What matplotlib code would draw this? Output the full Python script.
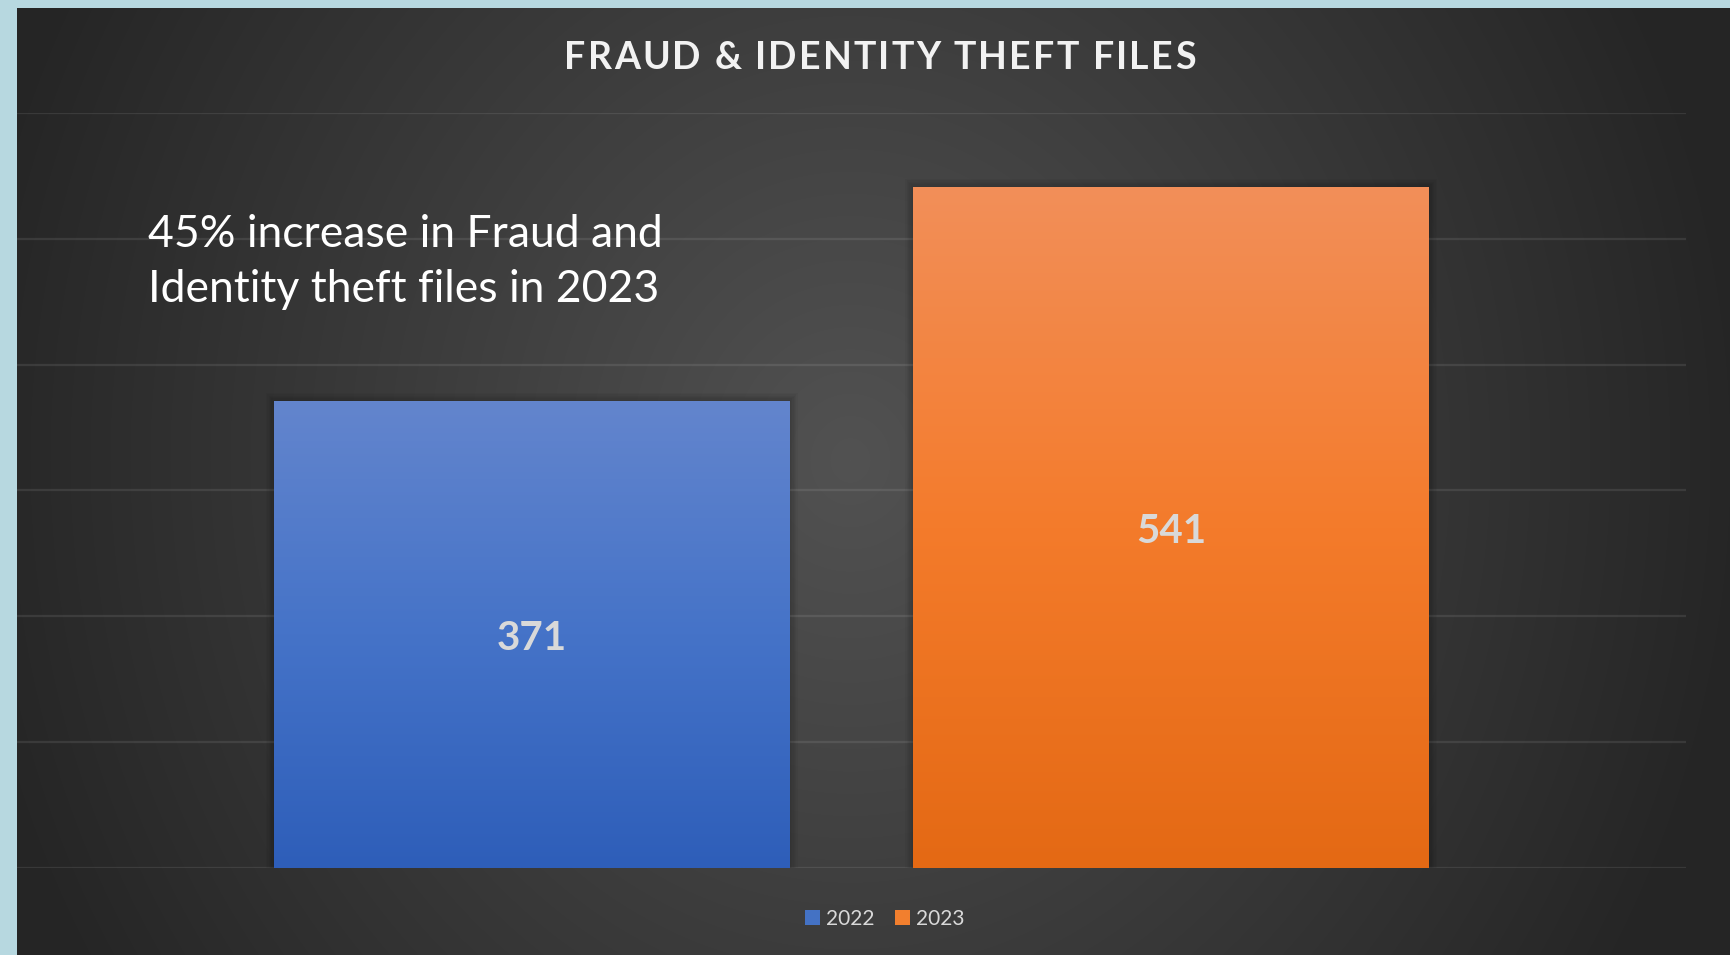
import numpy as np
import matplotlib.pyplot as plt
from matplotlib.patches import Rectangle, Patch
from matplotlib.colors import LinearSegmentedColormap

years = ["2022", "2023"]
files = [371, 541]
top_colors = ["#6385cd", "#f28f59"]
mid_colors = ["#4573c8", "#f47b2b"]
bottom_colors = ["#2e5eb9", "#e46914"]
legend_colors = ["#4472c4", "#f27f2e"]
title = "FRAUD & IDENTITY THEFT FILES"
note_lines = ["45% increase in Fraud and", "Identity theft files in 2023"]

plt.rcParams["font.family"] = ["Lato", "DejaVu Sans"]

W, H = 1730, 955
fig = plt.figure(figsize=(W / 100, H / 100), dpi=100)
fig.patch.set_facecolor("#b7d8e0")
renderer = fig.canvas.get_renderer()

# dark panel with a soft radial glow
bg = fig.add_axes([17 / W, 0, 1 - 17 / W, (H - 8) / H], zorder=0)
px, py = np.meshgrid(np.arange(17, W), np.arange(8, H))
f = np.sqrt(((px - 850) / 900.0) ** 2 + ((py - 460) / 1000.0) ** 2)
shade = 82 - 45 * np.clip(f, 0, 1)
rgb = np.dstack([shade, shade, shade]) / 255.0
bg.imshow(rgb, aspect="auto", interpolation="bilinear")
bg.set_axis_off()

ax = fig.add_axes([17 / W, 1 - 868 / H, (1686 - 17) / W, (868 - 113) / H], zorder=1)
ax.patch.set_alpha(0)

centers = [-0.383, 0.383]
width = 0.618
ax.set_yticks(range(0, 601, 100))
ax.grid(axis="y", color="#ffffff", alpha=0.09, linewidth=1.6)
ax.set_axisbelow(True)
for s in ax.spines.values():
    s.set_visible(False)
ax.tick_params(left=False, bottom=False, labelleft=False, labelbottom=False)

grad = np.linspace(1, 0, 256).reshape(-1, 1)
for c, v, tc, mc, bc in zip(centers, files, top_colors, mid_colors, bottom_colors):
    x0 = c - width / 2
    # soft shadow
    for k in range(1, 7):
        dx = 0.0016 * k
        dy = 1.1 * k
        ax.add_patch(Rectangle((x0 - dx, -dy), width + 2 * dx, v + 2 * dy,
                               facecolor="black", edgecolor="none", alpha=0.03, zorder=2))
    bar = ax.bar(c, v, width=width, color=bc, zorder=3)[0]
    cmap = LinearSegmentedColormap.from_list("g", [bc, mc, tc])
    im = ax.imshow(grad, extent=[x0, x0 + width, 0, v], aspect="auto",
                   cmap=cmap, zorder=4, origin="upper")
    im.set_clip_path(bar)
    ax.text(c, v / 2, str(v), ha="center", va="center_baseline", fontsize=29,
            fontweight="bold", color="#d9d9d9", zorder=5)

ax.set_xlim(-1, 1)
ax.set_ylim(0, 600)


# title with letter spacing, drawn one character at a time
def advance(ch, **kw):
    t1 = fig.text(0, 0, "H" + ch + "H", **kw)
    t2 = fig.text(0, 0, "HH", **kw)
    w = t1.get_window_extent(renderer).width - t2.get_window_extent(renderer).width
    t1.remove()
    t2.remove()
    return w


tkw = dict(fontsize=27, fontweight="bold", color="#f2f2f2")
gap = 2.2
advs = [advance(ch, **tkw) for ch in title]
total = sum(advs) + gap * (len(title) - 1)
x = 880 - total / 2
for ch, a in zip(title, advs):
    fig.text(x / W, 1 - 69 / H, ch, ha="left", va="baseline", **tkw)
    x += a + gap

for line, base in zip(note_lines, [247, 302]):
    fig.text(148 / W, 1 - base / H, line, ha="left", va="baseline", fontsize=32,
             color="#ffffff")

handles = [Patch(facecolor=c, label=y) for c, y in zip(legend_colors, years)]
fig.legend(handles=handles, loc="center", bbox_to_anchor=(885 / W, 1 - 919 / H),
           ncol=2, frameon=False, fontsize=15, labelcolor="#d9d9d9",
           handlelength=0.7, handleheight=0.7, handletextpad=0.3, columnspacing=1.0)

fig.savefig("out.png", dpi=100, facecolor=fig.get_facecolor())
